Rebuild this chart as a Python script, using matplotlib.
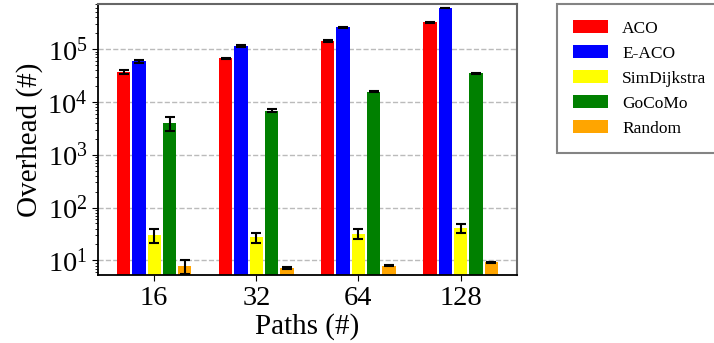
import numpy as np
import matplotlib.pyplot as plt
from matplotlib.ticker import LogLocator

plt.rcParams['font.family'] = ['Liberation Serif', 'DejaVu Serif']
plt.rcParams['mathtext.fontset'] = 'stix'

# overhead per method for each number of paths
paths = ['16', '32', '64', '128']
methods = ['ACO', 'E-ACO', 'SimDijkstra', 'GoCoMo', 'Random']
colors = ['red', 'blue', 'yellow', 'green', 'orange']

aco = [36600, 66600, 142000, 321000]
eaco = [58500, 114000, 257000, 597000]
simdijkstra = [30, 27.2, 32, 41]
gocomo = [4070, 6870, 15700, 35100]
rnd = [7.8, 7.1, 7.9, 9.2]

aco_err = [3000, 2000, 4000, 5000]
eaco_err = [4000, 3000, 5000, 8000]
simdijkstra_err = [9, 6, 7, 8]
gocomo_err = [1200, 400, 300, 600]
rnd_err = [2.3, 0.3, 0.2, 0.2]

values = [aco, eaco, simdijkstra, gocomo, rnd]
errors = [aco_err, eaco_err, simdijkstra_err, gocomo_err, rnd_err]

fig = plt.figure(figsize=(7.14, 3.43), dpi=100)
ax = fig.add_axes([0.137, 0.198, 0.587, 0.790])

x = np.arange(len(paths))
width = 0.13
step = 0.15
for i, (name, vals, errs, c) in enumerate(zip(methods, values, errors, colors)):
    ax.bar(x + (i - 2) * step, vals, width, color=c, label=name,
           yerr=errs, capsize=3.5,
           error_kw=dict(ecolor='black', elinewidth=1.5, capthick=1.5))

ax.set_yscale('log')
ax.yaxis.set_major_locator(LogLocator(base=10, numticks=20))
ax.yaxis.set_minor_locator(LogLocator(base=10, subs=np.arange(2, 10), numticks=20))
ax.set_ylim(5.27, 7.1e5)
ax.set_xlim(-0.552, 3.552)
ax.set_xticks(x)
ax.set_xticklabels(paths)
ax.yaxis.grid(True, which='major', linestyle='--', color='#bbbbbb', linewidth=1)
ax.set_axisbelow(True)

ax.tick_params(axis='both', which='major', labelsize=20.5, direction='out', length=4)
ax.tick_params(axis='y', which='minor', direction='out', length=2)
ax.set_xlabel('Paths (#)', fontsize=21, labelpad=2)
ax.set_ylabel('Overhead (#)', fontsize=21, labelpad=3)

for side in ['left', 'bottom']:
    ax.spines[side].set_color('black')
    ax.spines[side].set_linewidth(1.3)
for side in ['top', 'right']:
    ax.spines[side].set_color('#666666')
    ax.spines[side].set_linewidth(1.5)

leg = fig.legend(loc='upper left', bbox_to_anchor=(557 / 714, 1 - 4 / 343),
                 fontsize=12.5, frameon=True, fancybox=False, edgecolor='#666666',
                 handlelength=2.0, handleheight=0.73, handletextpad=0.8,
                 labelspacing=0.5, borderpad=0.95, borderaxespad=0)
leg.get_frame().set_linewidth(1.5)

fig.savefig('out.png', dpi=100)
